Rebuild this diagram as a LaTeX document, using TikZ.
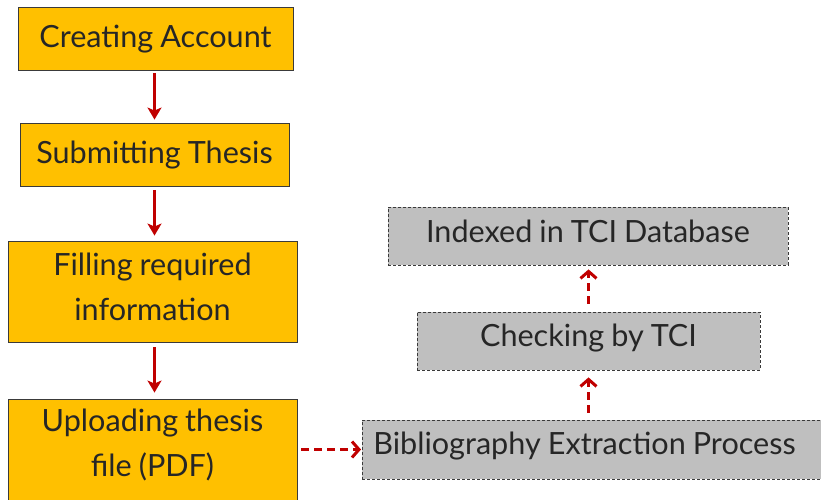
\documentclass[tikz,border=0pt]{standalone}
\usepackage{fontspec}
\setmainfont{Lato}[WordSpace=0.9]
\usetikzlibrary{arrows.meta}
\definecolor{boxorange}{HTML}{FFC000}
\definecolor{arrred}{HTML}{C00000}
\definecolor{boxgray}{HTML}{BFBFBF}
\definecolor{txtdark}{HTML}{262626}
\definecolor{edgedark}{HTML}{3A3A3A}
\tikzset{
  orangebox/.style={rectangle, draw=edgedark, line width=0.9pt, fill=boxorange, inner sep=0pt, align=center, text=txtdark, font=\fontsize{30.6}{45}\selectfont},
  graybox/.style={rectangle, draw=edgedark, line width=0.8pt, dash pattern=on 3pt off 2pt, fill=boxgray, inner sep=0pt, align=center, text=txtdark, font=\fontsize{30.6}{45}\selectfont},
  solidarrow/.style={draw=arrred, line width=3pt, -{Stealth[length=12pt,width=14pt,inset=3pt]}},
  dasharrow/.style={draw=arrred, line width=3pt, dash pattern=on 8pt off 5pt, -{Straight Barb[length=7pt,width=16pt,line width=3pt]}},
}
\begin{document}
\begin{tikzpicture}[x=1pt,y=-1pt]
\useasboundingbox (0,0) rectangle (821,499);
\begin{scope}
\clip (0,0) rectangle (821,499);
\node[orangebox, minimum width=275pt, minimum height=63pt, text height=22pt, text depth=5pt] (ca) at (155.5,38.5) {Creating Account};
\node[orangebox, minimum width=269pt, minimum height=63pt, text height=22pt, text depth=5pt] (st) at (154.5,154.5) {Submitting Thesis};
\node[orangebox, minimum width=289pt, minimum height=101pt] (fi) at (152.5,291.5) {Filling required\\information\rule[-9pt]{0pt}{1pt}};
\node[orangebox, minimum width=289pt, minimum height=103pt] (up) at (152.5,450.5) {Uploading thesis\\file (PDF)\rule[-16pt]{0pt}{1pt}};
\node[graybox, minimum width=400pt, minimum height=58pt, text height=22pt, text depth=9pt] (idx) at (588,236) {Indexed in TCI Database};
\node[graybox, minimum width=343pt, minimum height=58pt, text height=22pt, text depth=11pt] (chk) at (588.5,341) {Checking by TCI};
\node[graybox, anchor=west, minimum height=59pt, inner xsep=11pt, text height=22pt, text depth=12pt] (bib) at (362,449.5) {Bibliography Extraction Process\hspace*{40pt}};
\end{scope}
\draw[solidarrow, shorten <=3pt, shorten >=3pt] (ca.south -| st.north) -- (st.north);
\draw[solidarrow, shorten <=4pt, shorten >=5pt] (st.south) -- (st.south |- fi.north);
\draw[solidarrow, shorten <=5pt, shorten >=6pt] (fi.south -| st.south) -- (st.south |- up.north);
\draw[dasharrow, shorten <=4pt, shorten >=1pt] (up.east |- bib.west) -- (bib.west);
\draw[dasharrow, shorten <=7pt, shorten >=7pt] (bib.north -| chk.south) -- (chk.south);
\draw[dasharrow, shorten <=8pt, shorten >=4pt] (chk.north) -- (chk.north |- idx.south);
\end{tikzpicture}
\end{document}
